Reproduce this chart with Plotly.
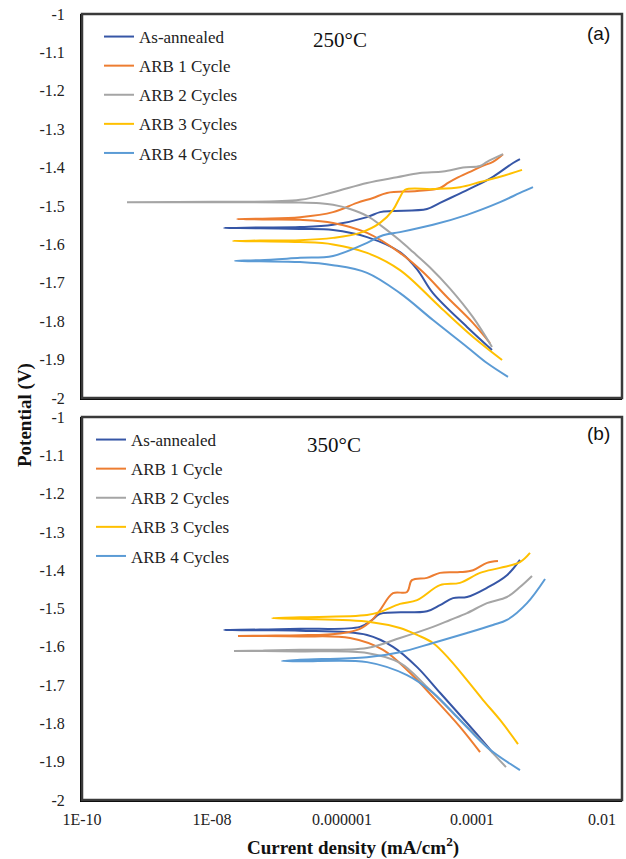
import plotly.graph_objects as go

# ---------------- Panel (a): 250°C ----------------
# Each series runs from the cathodic end, through the corrosion tip, out along the anodic branch.
a_annealed_i = [2.03e-4, 8.38e-5, 2.51e-5, 1.43e-5, 7.8e-6, 2.43e-6, 7.28e-7, 2.26e-7, 5.47e-8, 1.53e-8,
                5.47e-8, 2.26e-7, 7.28e-7, 2.43e-6, 3.85e-6, 6.10e-6, 2.03e-5, 3.22e-5, 5.88e-5, 1.04e-4,
                2.10e-4, 4.28e-4, 5.47e-4]
a_annealed_E = [-1.875, -1.815, -1.727, -1.665, -1.620, -1.581, -1.5625, -1.560, -1.558, -1.557,
                -1.556, -1.555, -1.549, -1.529, -1.516, -1.513, -1.508, -1.492, -1.471, -1.451,
                -1.424, -1.388, -1.378]

a_arb1_i = [1.89e-4, 1.04e-4, 4.12e-5, 1.76e-5, 7.8e-6, 2.43e-6, 7.28e-7, 2.26e-7, 6.0e-8, 2.43e-8,
            6.0e-8, 2.26e-7, 7.28e-7, 1.70e-6, 3.0e-6, 4.92e-6, 1.43e-5, 3.22e-5, 4.27e-5, 5.88e-5,
            9.31e-5, 1.43e-4, 2.10e-4, 3.0e-4]
a_arb1_E = [-1.857, -1.805, -1.737, -1.672, -1.622, -1.570, -1.544, -1.536, -1.535, -1.534,
            -1.533, -1.529, -1.516, -1.492, -1.479, -1.466, -1.461, -1.453, -1.440, -1.427,
            -1.411, -1.396, -1.385, -1.365]

a_arb2_i = [2.03e-4, 1.04e-4, 4.59e-5, 2.26e-5, 1.24e-5, 7.8e-6, 4.28e-6, 2.43e-6, 1.33e-6, 7.28e-7,
            4.59e-7, 2.26e-7, 1.0e-8, 4.92e-10, 1.0e-8, 2.26e-7, 7.28e-7, 2.43e-6, 7.02e-6, 1.58e-5,
            3.58e-5, 7.27e-5, 1.33e-4, 1.70e-4, 3.0e-4]
a_arb2_E = [-1.867, -1.790, -1.715, -1.660, -1.620, -1.590, -1.555, -1.526, -1.508, -1.497,
            -1.493, -1.491, -1.490, -1.490, -1.489, -1.484, -1.464, -1.440, -1.425, -1.414,
            -1.410, -1.400, -1.396, -1.385, -1.365]

a_arb3_i = [2.90e-4, 1.04e-4, 3.22e-5, 7.8e-6, 2.43e-6, 7.28e-7, 2.26e-7, 5.47e-8, 2.10e-8, 5.47e-8,
            2.26e-7, 7.28e-7, 1.89e-6, 3.85e-6, 6.10e-6, 7.8e-6, 9.31e-6, 2.51e-5, 6.53e-5, 1.33e-4,
            2.70e-4, 5.88e-4]
a_arb3_E = [-1.901, -1.841, -1.763, -1.667, -1.622, -1.600, -1.594, -1.592, -1.591, -1.590,
            -1.589, -1.583, -1.570, -1.544, -1.510, -1.477, -1.458, -1.456, -1.451, -1.4375,
            -1.424, -1.406]

a_arb4_i = [3.58e-4, 1.70e-4, 8.38e-5, 2.51e-5, 7.8e-6, 2.43e-6, 7.28e-7, 2.26e-7, 5.47e-8, 2.26e-8,
            5.47e-8, 2.26e-7, 7.28e-7, 2.43e-6, 4.28e-6, 7.8e-6, 2.51e-5, 8.38e-5, 2.70e-4, 5.47e-4,
            8.68e-4]
a_arb4_E = [-1.945, -1.909, -1.867, -1.797, -1.727, -1.674, -1.654, -1.646, -1.644, -1.643,
            -1.641, -1.635, -1.630, -1.596, -1.576, -1.568, -1.549, -1.523, -1.490, -1.466,
            -1.451]

# ---------------- Panel (b): 350°C ----------------
b_annealed_i = [2.10e-4, 8.38e-5, 3.22e-5, 1.43e-5, 6.10e-6, 2.43e-6, 2.26e-7, 5.47e-8, 1.53e-8, 5.47e-8,
                2.26e-7, 1.89e-6, 2.90e-6, 3.85e-6, 2.03e-5, 3.22e-5, 5.10e-5, 8.38e-5, 1.70e-4, 3.45e-4,
                5.47e-4]
b_annealed_E = [-1.877, -1.799, -1.720, -1.653, -1.600, -1.569, -1.558, -1.557, -1.556, -1.555,
                -1.553, -1.548, -1.530, -1.514, -1.507, -1.491, -1.473, -1.470, -1.446, -1.413,
                -1.373]

b_arb1_i = [1.33e-4, 6.53e-5, 2.51e-5, 1.11e-5, 4.28e-6, 1.33e-6, 2.26e-7, 6.0e-8, 2.51e-8, 6.0e-8,
            2.26e-7, 9.31e-7, 1.89e-6, 2.90e-6, 3.85e-6, 6.10e-6, 1.0e-5, 1.19e-5, 2.03e-5, 3.22e-5,
            6.53e-5, 1.04e-4, 1.70e-4, 2.51e-4]
b_arb1_E = [-1.875, -1.809, -1.731, -1.668, -1.608, -1.577, -1.573, -1.572, -1.572, -1.571,
            -1.570, -1.565, -1.553, -1.530, -1.504, -1.460, -1.457, -1.426, -1.420, -1.407,
            -1.405, -1.400, -1.381, -1.376]

b_arb2_i = [3.33e-4, 1.33e-4, 5.10e-5, 2.03e-5, 7.8e-6, 2.43e-6, 2.26e-7, 6.0e-8, 2.18e-8, 6.0e-8,
            2.26e-7, 2.43e-6, 7.8e-6, 2.51e-5, 4.6e-5, 8.38e-5, 1.70e-4, 3.45e-4, 5.47e-4, 8.38e-4]
b_arb2_E = [-1.914, -1.843, -1.773, -1.705, -1.642, -1.616, -1.612, -1.611, -1.611, -1.610,
            -1.608, -1.603, -1.577, -1.548, -1.530, -1.512, -1.486, -1.470, -1.444, -1.415]

b_arb3_i = [5.10e-4, 2.70e-4, 1.48e-4, 8.38e-5, 4.59e-5, 2.51e-5, 1.43e-5, 7.8e-6, 2.70e-6, 2.26e-7,
            8.38e-8, 2.26e-7, 2.43e-6, 3.85e-6, 7.8e-6, 1.43e-5, 3.22e-5, 6.53e-5, 1.33e-4, 2.70e-4,
            5.47e-4, 7.80e-4]
b_arb3_E = [-1.854, -1.791, -1.739, -1.687, -1.634, -1.590, -1.569, -1.551, -1.535, -1.527,
            -1.525, -1.523, -1.517, -1.509, -1.488, -1.478, -1.439, -1.433, -1.407, -1.394,
            -1.379, -1.355]

b_arb4_i = [5.47e-4, 1.70e-4, 6.53e-5, 2.51e-5, 1.0e-5, 2.43e-6, 2.26e-7, 1.19e-7, 2.26e-7, 2.43e-6,
            7.8e-6, 2.51e-5, 8.38e-5, 2.10e-4, 3.45e-4, 7.02e-4, 1.33e-3]
b_arb4_E = [-1.922, -1.862, -1.791, -1.720, -1.674, -1.640, -1.638, -1.637, -1.634, -1.627,
            -1.614, -1.590, -1.564, -1.543, -1.530, -1.486, -1.423]

series_names = ["As-annealed", "ARB 1 Cycle", "ARB 2 Cycles", "ARB 3 Cycles", "ARB 4 Cycles"]
series_colors = ["#3656A6", "#ED7D31", "#A5A5A5", "#FFC000", "#5B9BD5"]

x_tick_vals = [1e-10, 1e-8, 1e-6, 1e-4, 1e-2]
x_tick_text = ["1E-10", "1E-08", "0.000001", "0.0001", "0.01"]
y_tick_vals = [-1.0, -1.1, -1.2, -1.3, -1.4, -1.5, -1.6, -1.7, -1.8, -1.9, -2.0]
y_tick_text = ["-1", "-1.1", "-1.2", "-1.3", "-1.4", "-1.5", "-1.6", "-1.7", "-1.8", "-1.9", "-2"]

panel_a = [(a_annealed_i, a_annealed_E), (a_arb1_i, a_arb1_E), (a_arb2_i, a_arb2_E),
           (a_arb3_i, a_arb3_E), (a_arb4_i, a_arb4_E)]
panel_b = [(b_annealed_i, b_annealed_E), (b_arb1_i, b_arb1_E), (b_arb2_i, b_arb2_E),
           (b_arb3_i, b_arb3_E), (b_arb4_i, b_arb4_E)]

SERIF = "Liberation Serif, Times New Roman, serif"
W, H = 626, 859
L, R, T, B = 82, 4, 14, 59
plot_h = H - T - B

def py(pixel_y):
    """page pixel row -> paper fraction"""
    return (H - B - pixel_y) / plot_h

def px(pixel_x):
    return (pixel_x - L) / (W - L - R)

fig = go.Figure()

for k, (ii, ee) in enumerate(panel_a):
    fig.add_trace(go.Scatter(x=ii, y=ee, mode="lines", name=series_names[k],
                             line=dict(color=series_colors[k], width=2, shape="spline", smoothing=1.0),
                             xaxis="x", yaxis="y", legend="legend", legendgroup=f"a{k}"))
for k, (ii, ee) in enumerate(panel_b):
    fig.add_trace(go.Scatter(x=ii, y=ee, mode="lines", name=series_names[k],
                             line=dict(color=series_colors[k], width=2, shape="spline", smoothing=1.0),
                             xaxis="x2", yaxis="y2", legend="legend2", legendgroup=f"b{k}"))

# log axis spans 1E-10 .. 0.01 over 520 px, frame continues 20 px further
x_range = [-10, -10 + 8 * 540 / 520]

tick_font = dict(family=SERIF, size=16, color="#222")
xaxis_common = dict(type="log", range=x_range, tickvals=x_tick_vals, ticktext=x_tick_text,
                    showgrid=False, zeroline=False, showline=True, linecolor="black", linewidth=2,
                    ticks="", tickfont=tick_font)
yaxis_common = dict(range=[-2, -1], tickvals=y_tick_vals, ticktext=y_tick_text,
                    showgrid=False, zeroline=False, showline=True, linecolor="black", linewidth=2,
                    ticks="", ticklabelstandoff=12, tickfont=tick_font)

legend_common = dict(font=dict(family=SERIF, size=17, color="#222"), bgcolor="rgba(0,0,0,0)",
                     xanchor="left", yanchor="top", tracegroupgap=4, itemwidth=30)

fig.update_layout(
    width=W, height=H,
    margin=dict(l=L, r=R, t=T, b=B),
    font=dict(family=SERIF, color="#222"),
    paper_bgcolor="white", plot_bgcolor="white",
    xaxis=dict(domain=[0, 1], anchor="y", showticklabels=False, **xaxis_common),
    yaxis=dict(domain=[py(398), 1.0], anchor="x", **yaxis_common),
    xaxis2=dict(domain=[0, 1], anchor="y2", ticklabelstandoff=4, **xaxis_common),
    yaxis2=dict(domain=[0, py(417)], anchor="x2", **yaxis_common),
    legend=dict(x=px(99), y=py(19), **legend_common),
    legend2=dict(x=px(91), y=py(422), **legend_common),
    showlegend=True,
)

# panel frames
for y0, y1 in [(py(398), 1.0), (0.0, py(417))]:
    fig.add_shape(type="rect", xref="paper", yref="paper", x0=0, x1=1, y0=y0, y1=y1,
                  line=dict(color="#3a3a3a", width=2.5), fillcolor="rgba(0,0,0,0)", layer="above")

annotations = [
    dict(text="250°C", x=px(340), y=py(40), font=dict(family=SERIF, size=21, color="#111")),
    dict(text="(a)", x=px(598), y=py(33), font=dict(family="Liberation Sans", size=19, color="#111")),
    dict(text="350°C", x=px(334), y=py(445), font=dict(family=SERIF, size=21, color="#111")),
    dict(text="(b)", x=px(598), y=py(433), font=dict(family="Liberation Sans", size=19, color="#111")),
    dict(text="<b>Current density (mA/cm<sup>2</sup>)</b>", x=px(353), y=py(847),
         font=dict(family=SERIF, size=19, color="#111")),
    dict(text="<b>Potential (V)</b>", x=px(25), y=py(415), textangle=-90,
         font=dict(family=SERIF, size=19, color="#111")),
]
for a in annotations:
    fig.add_annotation(xref="paper", yref="paper", showarrow=False, xanchor="center", yanchor="middle", **a)

fig.write_html("out.html")
